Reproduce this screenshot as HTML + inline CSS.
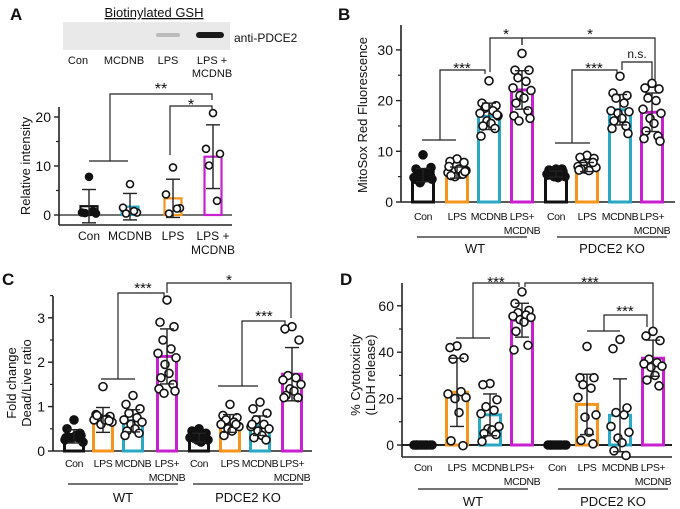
<!DOCTYPE html>
<html><head><meta charset="utf-8"><style>
body{margin:0;background:#fff}
svg{display:block;font-family:"Liberation Sans",sans-serif}
</style></head><body>
<svg id="fig" width="680" height="509" viewBox="0 0 680 509"></svg>
<script>
// ---------- data ----------
const catsA = ["Con","MCDNB","LPS","LPS +|MCDNB"];
const meansA = [1.8,1.7,3.4,11.9];
const sdA = [3.4,2.7,3.9,6.5];
const ptsA = [[7.8,0.5,0.3,0.4,0.8],[6.3,1.5,0.5,0.3,0.8],[9.7,4.2,1.4,0.3,1.3],[20.8,13.5,12.5,10.1,2.9]];
const ticksA = [0,10,20];

const catsB = ["Con","LPS","MCDNB","LPS+|MCDNB","Con","LPS","MCDNB","LPS+|MCDNB"];
const meansB = [5.3,5.8,16.9,22.1,5.5,6.9,18.2,17.7];
const sdB = [1.3,1.1,2.6,3.8,0.6,0.9,3.0,3.8];
const ptsB = [
 [9.3,6.5,6,5.5,5,4.8,4.5,4.2,5.8,6.2,5,4.5,6.8,3.8],
 [8.5,8,7.8,6,5.5,5.8,6.2,5,6.5,5.2,5.5,7,6],
 [23.9,19.5,19,18.5,18,17.5,17,16,15.5,15,14.5,13,17.2,18.8],
 [29.3,26,26,24.5,23.8,22.5,22,21,20.5,19.5,18,17,16.5,16],
 [6.5,6.3,6,5.8,5.5,5.5,5,5,4.8,6.2,6.5,5.3],
 [9.2,8.8,8.6,7.5,7.2,7,6.8,6.5,6.2,6.5,7.8,6.3],
 [24.8,21.5,21,20.5,19.5,18,17.8,17.5,16.5,16,15,14.5,13.5],
 [23.4,22.5,22.3,20.5,20,18.3,17.5,16.5,15.5,14,13,12.5,12]];
const ticksB = [0,10,20,30];

const catsC = catsB;
const meansC = [0.33,0.7,0.68,2.13,0.3,0.62,0.57,1.73];
const sdC = [0.15,0.28,0.25,0.62,0.1,0.2,0.22,0.6];
const ptsC = [
 [0.7,0.5,0.35,0.3,0.3,0.25,0.2,0.3,0.35,0.28,0.4,0.3],
 [1.45,0.82,0.78,0.75,0.72,0.7,0.65,0.6,0.7,0.8,0.68],
 [1.25,1.05,0.95,0.85,0.75,0.7,0.65,0.6,0.5,0.45,0.4,0.35],
 [3.4,2.9,2.8,2.5,2.3,2.2,2.1,1.95,1.75,1.65,1.5,1.4,1.35,1.3],
 [0.5,0.45,0.4,0.35,0.3,0.3,0.25,0.25,0.2,0.35,0.3],
 [1.05,0.8,0.75,0.7,0.65,0.6,0.55,0.5,0.45,0.35,0.6],
 [1.1,0.95,0.85,0.7,0.6,0.55,0.5,0.45,0.35,0.3,0.25,0.6],
 [2.8,2.75,2.5,1.7,1.65,1.6,1.5,1.4,1.35,1.25,1.2,1.2]];
const ticksC = [0,1,2,3];

const catsD = catsB;
const meansD = [0,22.7,13,53.8,0,17.5,12.8,37.4];
const sdD = [0,14.7,9,7.3,0,13,15.7,7.8];
const ptsD = [
 [0,0,0,0,0,0,0,0,0,0],
 [42.7,42,37.6,37,23,22,20.5,20,14,1.8,-0.3],
 [26.5,26,19.5,16.5,15,13.5,8,7,6.5,5,4.5,1.5],
 [66,61,58,57,56,55.5,55,54,53,49,43,41],
 [0,0,0,0,0,0,0,0,0,0],
 [42.5,29,29,26,24.5,20.5,13,12,5.5,2,0.5],
 [45.5,41.5,16,14,13,8,5.5,3,1,-2.5,-4.5],
 [49,47,45,37,35.5,35,34,33.5,30,28,25.5]];
const ticksD = [0,20,40,60];

// ---------- drawing ----------
const NS="http://www.w3.org/2000/svg";
const svg=document.getElementById('fig');
function mk(tag,attrs,name,parent){
  const el=document.createElementNS(NS,tag);
  for(const k in attrs) el.setAttribute(k,attrs[k]);
  
  
  (parent||svg).appendChild(el);
  return el;
}
function ln(x1,y1,x2,y2,name,w,col){return mk('line',{x1,y1,x2,y2,stroke:col||'#222','stroke-width':w||1.2},name);}
function tx(x,y,s,name,size,anchor,extra){const t=mk('text',Object.assign({x,y,'font-size':size||11,'text-anchor':anchor||'middle',fill:'#111'},extra||{}),name);t.textContent=s;return t;}
const colors=['#111','#f7941d','#2aa8c4','#c81fd0','#111','#f7941d','#2aa8c4','#c81fd0'];
const colorsA=['#111','#2aa8c4','#f7941d','#c81fd0'];
const offs=[0,-7,7,-4,4,-9,9,-2,2,-6,6,-8,8,-3,3];

function panel(p){
  const Y=v=>p.y0-v*p.k;
  ln(p.ax,p.top,p.ax,p.base,'y-axis',1.6);
  ln(p.ax,p.base,p.right,p.base,'x-axis',1.6);
  if(p.zero) ln(p.ax,Y(0),p.right,Y(0),'zero-line',p.zeroW||1.2);
  p.ticks.forEach(t=>{ln(p.ax-5,Y(t),p.ax,Y(t),'y-tick',1.4);tx(p.ax-8,Y(t)+5,String(t),'y-tick-label',14,'end');});
  p.minor.forEach(t=>{ln(p.ax-3,Y(t),p.ax,Y(t),'y-minor-tick',1.2);});
  p.means.forEach((m,i)=>{
    const x=p.xs[i],h=Y(0)-Y(m);
    const col=p.cols[i];
    if(m>0){mk('rect',{x:x-p.bw/2,y:Y(m),width:p.bw,height:h,fill:'#fff',stroke:col,'stroke-width':p.sw},'bar-'+i);}
  });
  p.pts.forEach((arr,i)=>{
    const filled=(p.filled.indexOf(i)>=0);
    arr.forEach((v,j)=>{
      mk('circle',{cx:p.xs[i]+offs[j%offs.length]*p.jit,cy:Y(v),r:p.r,fill:filled?'#111':'#fff',stroke:'#111','stroke-width':1.6},'data-point');
    });
  });
  p.means.forEach((m,i)=>{
    if(p.sd[i]<=0) return;
    const x=p.xs[i];
    ln(x,Y(m+p.sd[i]),x,Y(m-p.sd[i]),'error-bar',1.4);
    ln(x-p.cap,Y(m+p.sd[i]),x+p.cap,Y(m+p.sd[i]),'error-cap',1.4);
    ln(x-p.cap,Y(m-p.sd[i]),x+p.cap,Y(m-p.sd[i]),'error-cap',1.4);
  });
  p.cats.forEach((c,i)=>{
    const parts=c.split('|');
    tx(p.xs[i],p.ly,parts[0],'x-tick-label',p.lfs,'middle',{'letter-spacing':p.ls||0});
    if(parts[1]) tx(p.xs[i],p.ly+14,parts[1],'x-tick-label',p.lfs,'middle',{'letter-spacing':p.ls||0});
  });
}
function bracket(pts,name){mk('polyline',{points:pts,fill:'none',stroke:'#222','stroke-width':1.2},name);}

// ===== Panel A =====
tx(10,20,'A','panel-label-a',17,'start',{'font-weight':'bold'});
mk('rect',{x:63,y:22,width:167,height:28,fill:'#e9e9e9'},'western-blot');
mk('rect',{x:156,y:33,width:24,height:4,fill:'#bbb',rx:2},'blot-band-lps');
mk('rect',{x:196,y:32,width:28,height:6,fill:'#1a1a1a',rx:3},'blot-band-lps-mcdnb');
tx(154,17,'Biotinylated GSH','blot-title',13,'middle',{'text-decoration':'underline'});
tx(234,42,'anti-PDCE2','blot-antibody-label',12,'start');
tx(78,64,'Con','blot-lane-label',11);tx(124,64,'MCDNB','blot-lane-label',11);tx(168,64,'LPS','blot-lane-label',11);
tx(212,64,'LPS +','blot-lane-label',11);tx(212,77,'MCDNB','blot-lane-label',11);
panel({ax:59,top:107,base:225,right:232,y0:215,k:4.9,zero:true,ticks:ticksA,minor:[5,15],
 xs:[89,130,173,213],bw:17,sw:2.2,cols:colorsA,means:meansA,sd:sdA,pts:ptsA,filled:[0],r:3.5,jit:1,cap:7,
 cats:catsA,ly:240,lfs:12});
tx(30,166,'Relative intensity','y-axis-title',13,'middle',{transform:'rotate(-90 30 166)'});
bracket('89,161 128,161','sig-bracket');bracket('110,161 110,94 212,94 212,100','sig-bracket-double-star');
bracket('170,155 170,106 212,106 212,110','sig-bracket-star');
tx(161,94,'**','sig-label',16);tx(191,110,'*','sig-label',16);

// ===== Panel B =====
tx(338,20,'B','panel-label-b',17,'start',{'font-weight':'bold'});
panel({ax:401,top:25,base:202,right:675,y0:202,k:5.07,zero:false,ticks:ticksB,minor:[5,15,25],
 xs:[423,457,489,522,556,587,620,652],bw:21,sw:3,cols:colors,means:meansB,sd:sdB,pts:ptsB,filled:[0,4],r:4,jit:1,cap:7,
 cats:catsB,ly:220,lfs:10.5,ls:-0.4});
tx(367,115,'MitoSox Red Fluorescence','y-axis-title',13,'middle',{transform:'rotate(-90 367 115)'});
ln(417,237,527,237,'group-line-wt');ln(557,237,667,237,'group-line-ko');
tx(475,253,'WT','group-label-wt',13);tx(612,253,'PDCE2 KO','group-label-ko',13);
bracket('422,140 456,140','sig-bracket');bracket('440,140 440,70 485,70 485,74','sig-bracket');tx(462,73,'***','sig-label',15);
bracket('490,72 490,38 522,38 522,45','sig-bracket');tx(506,39,'*','sig-label',15);
bracket('522,45 522,38 655,38 655,80','sig-bracket');tx(590,39,'*','sig-label',15);
bracket('555,143 590,143','sig-bracket');bracket('572,143 572,70 617,70 617,74','sig-bracket');tx(594,73,'***','sig-label',15);
bracket('622,70 622,62 652,62 652,80','sig-bracket');tx(637,58,'n.s.','sig-label',12);

// ===== Panel C =====
tx(2,285,'C','panel-label-c',17,'start',{'font-weight':'bold'});
panel({ax:53,top:296,base:451,right:312,y0:451,k:44.4,zero:false,ticks:ticksC,minor:[0.5,1.5,2.5,3.5],
 xs:[74,103,133,167,199,230,260,292],bw:19,sw:3,cols:colors,means:meansC,sd:sdC,pts:ptsC,filled:[0,4],r:4,jit:1,cap:7,
 cats:catsC,ly:467,lfs:10.5,ls:-0.4});
tx(16,383,'Fold change','y-axis-title',13,'middle',{transform:'rotate(-90 16 383)'});
tx(31,383,'Dead/Live ratio','y-axis-title',13,'middle',{transform:'rotate(-90 31 383)'});
ln(68,484,178,484,'group-line-wt');ln(193,484,303,484,'group-line-ko');
tx(123,502,'WT','group-label-wt',13);tx(248,502,'PDCE2 KO','group-label-ko',13);
bracket('101,379 135,379','sig-bracket');bracket('118,379 118,293 164,293 164,297','sig-bracket');tx(143,293,'***','sig-label',15);
bracket('167,293 167,283 291,283 291,318','sig-bracket');tx(229,285,'*','sig-label',15);
bracket('218,386 258,386','sig-bracket');bracket('242,386 242,321 285,321 285,325','sig-bracket');tx(264,321,'***','sig-label',15);

// ===== Panel D =====
tx(340,285,'D','panel-label-d',17,'start',{'font-weight':'bold'});
panel({ax:402,top:283,base:457,right:672,y0:445,k:2.32,zero:true,zeroW:2,ticks:ticksD,minor:[10,30,50],
 xs:[423,457,490,522,557,587,620,653],bw:21,sw:3,cols:colors,means:meansD,sd:sdD,pts:ptsD,filled:[0,4],r:4,jit:1,cap:7,
 cats:catsD,ly:471,lfs:10.5,ls:-0.4});
tx(360,375,'% Cytotoxicity','y-axis-title',13,'middle',{transform:'rotate(-90 360 375)'});
tx(375,375,'(LDH release)','y-axis-title',13,'middle',{transform:'rotate(-90 375 375)'});
ln(418,489,528,489,'group-line-wt');ln(558,489,668,489,'group-line-ko');
tx(473,506,'WT','group-label-wt',13);tx(613,506,'PDCE2 KO','group-label-ko',13);
bracket('456,338 490,338','sig-bracket');bracket('473,338 473,283 519,283 519,287','sig-bracket');tx(496,287,'***','sig-label',15);
bracket('525,287 525,283 653,283 653,328','sig-bracket');tx(590,287,'***','sig-label',15);
bracket('587,331 620,331','sig-bracket');bracket('604,331 604,315 647,315 647,327','sig-bracket');tx(625,316,'***','sig-label',15);
</script>
</body></html>
